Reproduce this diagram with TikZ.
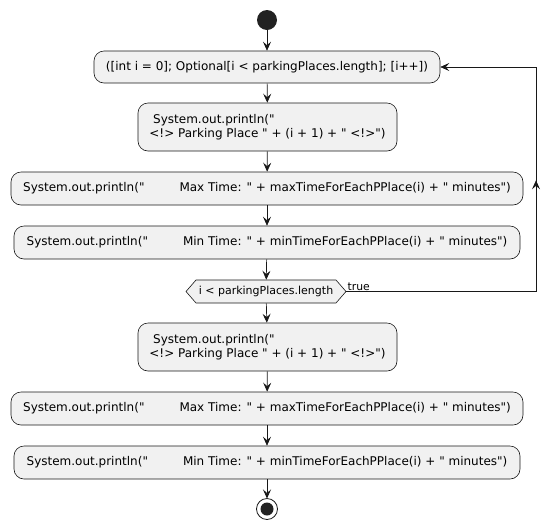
\documentclass[tikz,border=0pt]{standalone}
\usepackage{fontspec}
\newfontfamily\umlfont{DejaVu Sans}
\usetikzlibrary{arrows.meta,shapes.symbols,decorations.markings}
\definecolor{boxfill}{HTML}{F1F1F1}
\definecolor{boxline}{HTML}{181818}
\definecolor{dot}{HTML}{222222}
\begin{document}
\begin{tikzpicture}[x = 1pt, y = -1pt,
        action/.style = {draw=boxline, fill=boxfill, rounded corners=10pt, line width=0.6pt,
                         inner sep=0pt, font=\umlfont\fontsize{12}{14}\selectfont},
        test/.style   = {draw=boxline, fill=boxfill, shape=signal, signal to=west and east,
                         signal pointer angle=98, inner sep=0pt, line width=0.6pt,
                         minimum width=160pt, minimum height=23pt, font=\umlfont\fontsize{11}{13}\selectfont},
        flow/.style   = {draw=boxline, line width=0.7pt, -{Stealth[length=9pt,width=8pt,inset=3.5pt]}}]
        \useasboundingbox (0,0) rectangle (560,531);
        % start and stop
        \fill[dot] (267,20) circle (10pt);
        \coordinate (start) at (267,30);
        \coordinate (stop)  at (267,498.5);
        \draw[boxline, line width=0.8pt] (267,509) circle (10.5pt);
        \fill[dot] (267,509) circle (6.5pt);
        % loop body
        \node[action, minimum width=346pt, minimum height=32pt] (init) at (267,67)
              {([int i = 0]; Optional[i < parkingPlaces.length]; [i++])};
        \node[action, minimum width=259pt, minimum height=48pt, align=left] (head) at (267.5,127)
              {\hspace*{3.8pt}System.out.println("\\<!> Parking Place " + (i + 1) + " <!>")};
        \node[action, minimum width=512pt, minimum height=33pt] (max) at (267,188.5)
              {System.out.println("\hspace{35pt}Max Time: " + maxTimeForEachPPlace(i) + " minutes")};
        \node[action, minimum width=506pt, minimum height=33pt] (min) at (267,242.5)
              {System.out.println("\hspace{35pt}Min Time: " + minTimeForEachPPlace(i) + " minutes")};
        \node[test] (cond) at (266,291.5) {i < parkingPlaces.length};
        % after the loop
        \node[action, minimum width=259pt, minimum height=48pt, align=left] (head2) at (267.5,347)
              {\hspace*{3.8pt}System.out.println("\\<!> Parking Place " + (i + 1) + " <!>")};
        \node[action, minimum width=512pt, minimum height=33pt] (max2) at (267,408.5)
              {System.out.println("\hspace{35pt}Max Time: " + maxTimeForEachPPlace(i) + " minutes")};
        \node[action, minimum width=506pt, minimum height=33pt] (min2) at (267,462.5)
              {System.out.println("\hspace{35pt}Min Time: " + minTimeForEachPPlace(i) + " minutes")};
        % arrows
        \draw[flow] (start) -- (init);
        \draw[flow] (init)  -- (head);
        \draw[flow] (head)  -- (max);
        \draw[flow] (max)   -- (min);
        \draw[flow] (min)   -- (cond);
        \draw[flow] (cond)  -- (head2);
        \draw[flow] (head2) -- (max2);
        \draw[flow] (max2)  -- (min2);
        \draw[flow] (min2)  -- (stop);
        \draw[flow, postaction=decorate,
              decoration={markings, mark=at position 0.59 with {\arrow{Stealth[length=9pt,width=8pt,inset=3.5pt]}}}]
              (cond.east) -- (536,291.5) -- (536,67) -- (init.east);
        \node[anchor=south west, inner sep=1pt, font=\umlfont\fontsize{10.8}{12}\selectfont] (true) at (cond.east) {true};
      \end{tikzpicture}
\end{document}
